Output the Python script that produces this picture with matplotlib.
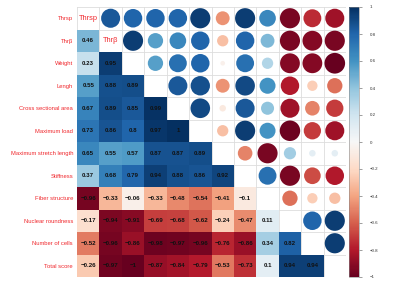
import numpy as np
import matplotlib
matplotlib.use("Agg")
import matplotlib.pyplot as plt
from matplotlib.patches import Rectangle, Circle
from matplotlib import cm, colors

plt.rcParams["font.family"] = ["Liberation Sans", "DejaVu Sans"]

labels = ["Thrsp", "Thrβ", "Weight", "Lengh", "Cross sectional area", "Maximum load",
          "Maximum stretch length", "Stiffness", "Fiber structure", "Nuclear roundness",
          "Number of cells", "Total score"]

# lower triangle values (shown as numbers)
lower = [
    [],
    [0.46],
    [0.23, 0.95],
    [0.55, 0.88, 0.89],
    [0.67, 0.89, 0.85, 0.99],
    [0.73, 0.86, 0.8, 0.97, 1],
    [0.65, 0.55, 0.57, 0.87, 0.87, 0.89],
    [0.37, 0.68, 0.79, 0.94, 0.88, 0.86, 0.92],
    [-0.96, -0.33, -0.06, -0.33, -0.48, -0.54, -0.41, -0.1],
    [-0.17, -0.94, -0.91, -0.69, -0.68, -0.62, -0.24, -0.47, 0.11],
    [-0.52, -0.96, -0.86, -0.98, -0.97, -0.96, -0.76, -0.86, 0.34, 0.82],
    [-0.26, -0.97, -1, -0.87, -0.84, -0.79, -0.53, -0.73, 0.1, 0.94, 0.94],
]

# upper triangle values (shown as circles), row i lists columns i+1..11
upper = [
    [0.85, 0.8, 0.8, 0.8, 0.95, -0.45, 0.95, 0.65, -0.95, -0.75, -0.85],
    [0.95, 0.55, 0.65, 0.8, -0.3, 0.8, 0.45, -0.95, -0.92, -0.95],
    [0.55, 0.75, 0.8, -0.05, 0.75, 0.3, -0.92, -0.92, -1.0],
    [0.85, 0.88, -0.45, 0.9, 0.6, -0.8, -0.25, -0.55],
    [0.9, -0.1, 0.85, 0.4, -0.85, -0.5, -0.7],
    [-0.3, 0.95, 0.6, -0.98, -0.7, -0.85],
    [-0.5, -0.95, 0.35, 0.1, 0.1],
    [0.75, -0.95, -0.65, -0.8],
    [-0.55, -0.25, -0.3],
    [0.8, 0.95],
    [0.95],
    [],
]

diag_shown = {0: "Thrsp", 1: "Thrβ"}

W, H = 404, 283
fig = plt.figure(figsize=(W / 100, H / 100), dpi=100)
ax = fig.add_axes([77 / W, 1 - 277 / H, 269 / W, 270 / H])
n = len(labels)
cmap = plt.get_cmap("RdBu")
norm = colors.Normalize(-1, 1)
red = "#F0282D"

for i in range(n):
    for j, v in enumerate(lower[i]):
        ax.add_patch(Rectangle((j, i), 1, 1, facecolor=cmap(norm(v)), edgecolor="none"))
        txt = ("%.2f" % v).rstrip("0").rstrip(".") if v not in (1, -1) else str(int(v))
        txt = txt.replace("-", "\u2212")
        ax.text(j + 0.5, i + 0.5, txt, ha="center", va="center", fontsize=4.4,
                color="#111111", fontweight="bold")
    for k, v in enumerate(upper[i]):
        j = i + 1 + k
        r = 0.46 * np.sqrt(abs(v))
        ax.add_patch(Circle((j + 0.5, i + 0.5), r, facecolor=cmap(norm(v)), edgecolor="none"))
    if i in diag_shown:
        ax.text(i + 0.5, i + 0.5, diag_shown[i], ha="center", va="center", fontsize=5.3, color=red)

for k in range(n + 1):
    ax.plot([0, n], [k, k], color="#dddddd", lw=0.6, zorder=0.5)
    ax.plot([k, k], [0, n], color="#dddddd", lw=0.6, zorder=0.5)

ax.set_xlim(0, n)
ax.set_ylim(n, 0)
ax.set_xticks([])
ax.set_yticks(np.arange(n) + 0.5)
ax.set_yticklabels(labels, fontsize=4.2, color=red)
ax.tick_params(axis="y", length=0, pad=2.8)
for s in ax.spines.values():
    s.set_visible(False)

cax = fig.add_axes([349 / W, 1 - 277 / H, 10 / W, 270 / H])
cb = fig.colorbar(cm.ScalarMappable(norm=norm, cmap=cmap), cax=cax)
ticks = np.round(np.arange(-1, 1.01, 0.2), 1)
cb.set_ticks(ticks)
cb.set_ticklabels([("%g" % t).replace("-", "\u2212") if abs(t) > 1e-9 else "0" for t in ticks])
cb.ax.tick_params(labelsize=3.2, length=2, width=0.4, color="#555555", labelcolor="#333333", pad=6)
cb.outline.set_linewidth(0.4)
cb.outline.set_edgecolor("#888888")

fig.savefig("out.png", dpi=100)
